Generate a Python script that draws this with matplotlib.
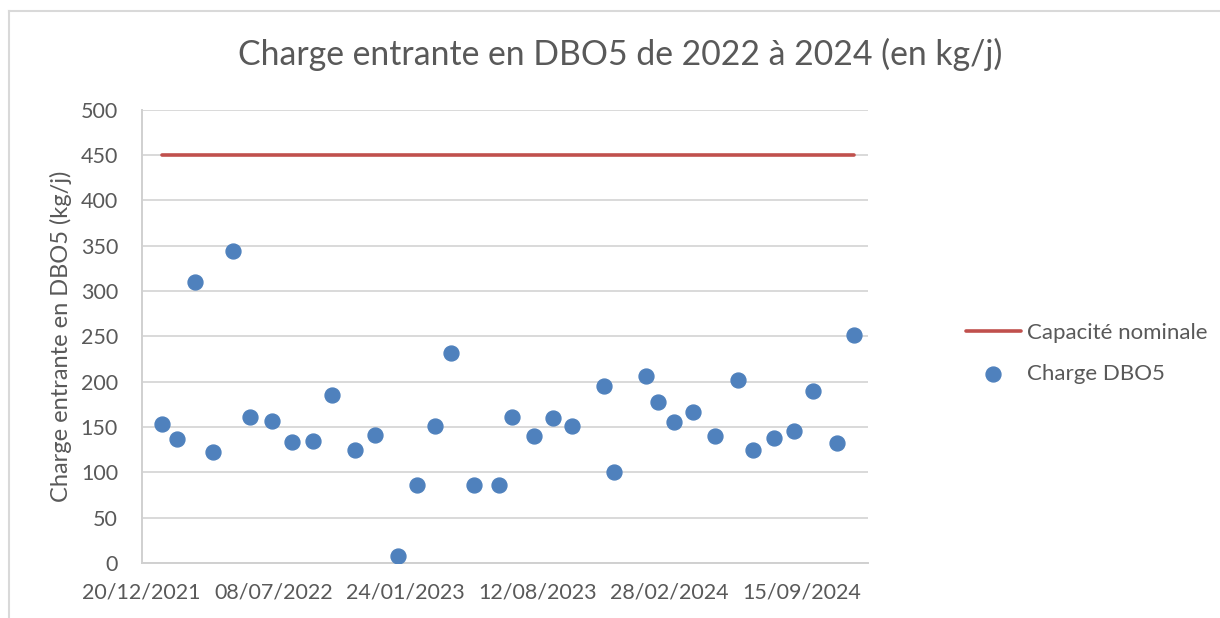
import matplotlib
matplotlib.use("Agg")
import matplotlib.pyplot as plt
import matplotlib.dates as mdates
from matplotlib.lines import Line2D
from datetime import datetime, timedelta

# measurement dates and incoming BOD5 load (kg/j)
dates = ["20/01/2022", "12/02/2022", "11/03/2022", "07/04/2022", "07/05/2022", "02/06/2022",
         "05/07/2022", "05/08/2022", "05/09/2022", "05/10/2022", "09/11/2022", "08/12/2022",
         "12/01/2023", "11/02/2023", "09/03/2023", "03/04/2023", "07/05/2023", "14/06/2023",
         "04/07/2023", "06/08/2023", "04/09/2023", "03/10/2023", "20/11/2023", "06/12/2023",
         "24/01/2024", "11/02/2024", "06/03/2024", "03/04/2024", "07/05/2024", "11/06/2024",
         "03/07/2024", "05/08/2024", "04/09/2024", "02/10/2024", "07/11/2024", "03/12/2024"]
charge = [153, 137, 310, 122, 344, 161, 157, 133, 134, 185, 125, 141,
          8, 86, 151, 232, 86, 86, 161, 140, 160, 151, 195, 100,
          206, 177, 155, 166, 140, 202, 125, 138, 145, 190, 132, 251]
capacite = 450
tick_labels = ["20/12/2021", "08/07/2022", "24/01/2023", "12/08/2023", "28/02/2024", "15/09/2024"]

x = [datetime.strptime(d, "%d/%m/%Y") for d in dates]
ticks = [datetime.strptime(t, "%d/%m/%Y") for t in tick_labels]

txt = "#595959"
grid = "#D9D9D9"
plt.rcParams["font.family"] = ["Lato", "DejaVu Sans"]

fig = plt.figure(figsize=(12.2, 6.18), dpi=100)
ax = fig.add_axes([0.1161, 0.089, 0.595, 0.7338])

ax.plot([x[0], x[-1]], [capacite, capacite], color="#C0504D", lw=2.6,
        solid_capstyle="round", label="Capacité nominale", zorder=3)
ax.scatter(x, charge, s=115, color="#4F81BD", label="Charge DBO5", zorder=4)

ax.set_ylim(0, 500)
ax.set_yticks(range(0, 501, 50))
ax.set_xlim(ticks[0], ticks[0] + timedelta(days=1100))
ax.set_xticks(ticks)
ax.xaxis.set_major_formatter(mdates.DateFormatter("%d/%m/%Y"))

ax.grid(axis="y", color=grid, lw=1.4)
ax.set_axisbelow(True)
for s in ["top", "right"]:
    ax.spines[s].set_visible(False)
for s in ["left", "bottom"]:
    ax.spines[s].set_color("#D0D0D0")
    ax.spines[s].set_linewidth(1.4)
ax.tick_params(axis="both", length=0, labelsize=15.5, labelcolor=txt)
ax.tick_params(axis="y", pad=17)
ax.tick_params(axis="x", pad=14)

ax.set_ylabel("Charge entrante en DBO5 (kg/j)", fontsize=17, color=txt, labelpad=6)
fig.text(0.508, 0.912, "Charge entrante en DBO5 de 2022 à 2024 (en kg/j)",
         ha="center", va="center", fontsize=24.3, color=txt)

fig.legend(loc="center left", bbox_to_anchor=(0.775, 0.428), frameon=False,
           fontsize=16, labelcolor=txt, handlelength=2.5, handletextpad=0.25,
           labelspacing=0.95, markerscale=1.0)

# outer chart frame (only top and left visible in the crop)
fig.add_artist(Line2D([9 / 1220, 1.0], [1 - 11 / 618, 1 - 11 / 618], color=grid, lw=1.5))
fig.add_artist(Line2D([9 / 1220, 9 / 1220], [0.0, 1 - 11 / 618], color=grid, lw=1.5))

fig.savefig("out.png", dpi=100)
